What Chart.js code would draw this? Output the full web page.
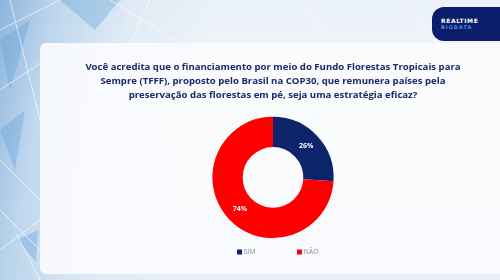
<!DOCTYPE html>
<html>
<head>
<meta charset="utf-8">
<script src="https://cdn.jsdelivr.net/npm/chart.js@4/dist/chart.umd.min.js"></script>
<style>
  html, body { margin: 0; padding: 0; }
  body {
    width: 500px; height: 280px; overflow: hidden; position: relative;
    background:
      linear-gradient(100deg, rgba(110,160,210,0.75) 0%, rgba(150,190,228,0.55) 10%, rgba(200,222,240,0.35) 24%, rgba(240,245,250,0) 40%),
      linear-gradient(180deg, #eaf1f8 0%, #f4f7fa 40%, #e8eff7 100%);
    font-family: "Open Sans", "Noto Sans", sans-serif;
  }
  svg.bg { position: absolute; left: 0; top: 0; }
  .card {
    position: absolute; left: 40px; top: 43px; width: 470px; height: 231px;
    background: rgba(250,251,253,0.93); border-radius: 6px;
  }
  .logo {
    position: absolute; left: 432px; top: 7px; width: 80px; height: 34px;
    background: #0b1d6b; border-radius: 12px;
  }
  .logo .t1 { position: absolute; left: 9px; top: 10px; font: bold 6px "DejaVu Sans", sans-serif; color: #ffffff; letter-spacing: 0.6px; }
  .logo .t2 { position: absolute; left: 9px; top: 17px; font: bold 5px "DejaVu Sans", sans-serif; color: #4f8fe0; letter-spacing: 1px; }
  #wrap { position: absolute; left: 46px; top: 43px; width: 454px; height: 237px; }
</style>
</head>
<body>
<svg class="bg" width="500" height="280">
  <g fill="#5f9fd6" opacity="0.35">
    <polygon points="0,40 30,20 10,90"/>
    <polygon points="18,240 38,230 36,262"/>
    <polygon points="0,130 25,110 15,170"/>
    <polygon points="60,0 120,0 95,30"/>
  </g>
  <g stroke="#ffffff" stroke-width="0.8" opacity="0.8" fill="none">
    <line x1="0" y1="30" x2="60" y2="0"/>
    <line x1="0" y1="90" x2="45" y2="60"/>
    <line x1="10" y1="0" x2="40" y2="120"/>
    <line x1="0" y1="160" x2="40" y2="200"/>
    <line x1="0" y1="250" x2="40" y2="220"/>
    <line x1="16" y1="233" x2="40" y2="280"/>
    <line x1="0" y1="210" x2="40" y2="250"/>
    <line x1="110" y1="0" x2="180" y2="43"/>
    <line x1="130" y1="43" x2="150" y2="0"/>
    <line x1="300" y1="0" x2="330" y2="43"/>
    <line x1="440" y1="43" x2="400" y2="0"/>
  </g>
</svg>
<div class="card"></div>
<div class="logo"><div class="t1">REALTIME</div><div class="t2">BIGDATA</div></div>
<div id="wrap"><canvas id="c"></canvas></div>
<script>
const titleLines = [
  "Você acredita que o financiamento por meio do Fundo Florestas Tropicais para",
  "Sempre (TFFF), proposto pelo Brasil na COP30, que remunera países pela",
  "preservação das florestas em pé, seja uma estratégia eficaz?"
];
const categories = ["SIM", "NÃO"];
const values = [26, 74];
const colors = ["#0c246a", "#ff0000"];

const sliceLabels = {
  id: 'sliceLabels',
  afterDatasetsDraw(chart) {
    const ctx = chart.ctx;
    const meta = chart.getDatasetMeta(0);
    ctx.save();
    ctx.fillStyle = '#ffffff';
    ctx.font = 'bold 7px "Open Sans", sans-serif';
    ctx.textAlign = 'center';
    ctx.textBaseline = 'middle';
    meta.data.forEach((arc, i) => {
      const p = arc.tooltipPosition();
      ctx.fillText(chart.data.datasets[0].data[i] + '%', p.x, p.y);
    });
    ctx.restore();
  }
};

const customLegend = {
  id: 'customLegend',
  afterDraw(chart) {
    const ctx = chart.ctx;
    const ca = chart.chartArea;
    const cx = (ca.left + ca.right) / 2;
    const y = ca.bottom + 14;
    const starts = [cx - 36, cx + 24];
    ctx.save();
    ctx.font = '7px "Open Sans", sans-serif';
    ctx.textBaseline = 'middle';
    ctx.textAlign = 'left';
    chart.data.labels.forEach((lab, i) => {
      const x = starts[i];
      ctx.fillStyle = chart.data.datasets[0].backgroundColor[i];
      ctx.fillRect(x, y - 2.5, 5, 5);
      ctx.fillStyle = '#8a8f98';
      ctx.fillText(lab, x + 6.5, y);
    });
    ctx.restore();
  }
};

new Chart(document.getElementById('c'), {
  type: 'doughnut',
  data: {
    labels: categories,
    datasets: [{
      data: values,
      backgroundColor: colors,
      borderWidth: 0
    }]
  },
  options: {
    responsive: true,
    maintainAspectRatio: false,
    animation: false,
    cutout: '50%',
    layout: { padding: { top: 0, bottom: 42 } },
    plugins: {
      legend: { display: false },
      tooltip: { enabled: false },
      title: {
        display: true,
        text: titleLines,
        color: '#1a2a6a',
        font: { family: '"Open Sans", sans-serif', size: 9.6, weight: 'bold', lineHeight: 1.45 },
        padding: { top: 17, bottom: 15 }
      }
    }
  },
  plugins: [sliceLabels, customLegend]
});
</script>
</body>
</html>
